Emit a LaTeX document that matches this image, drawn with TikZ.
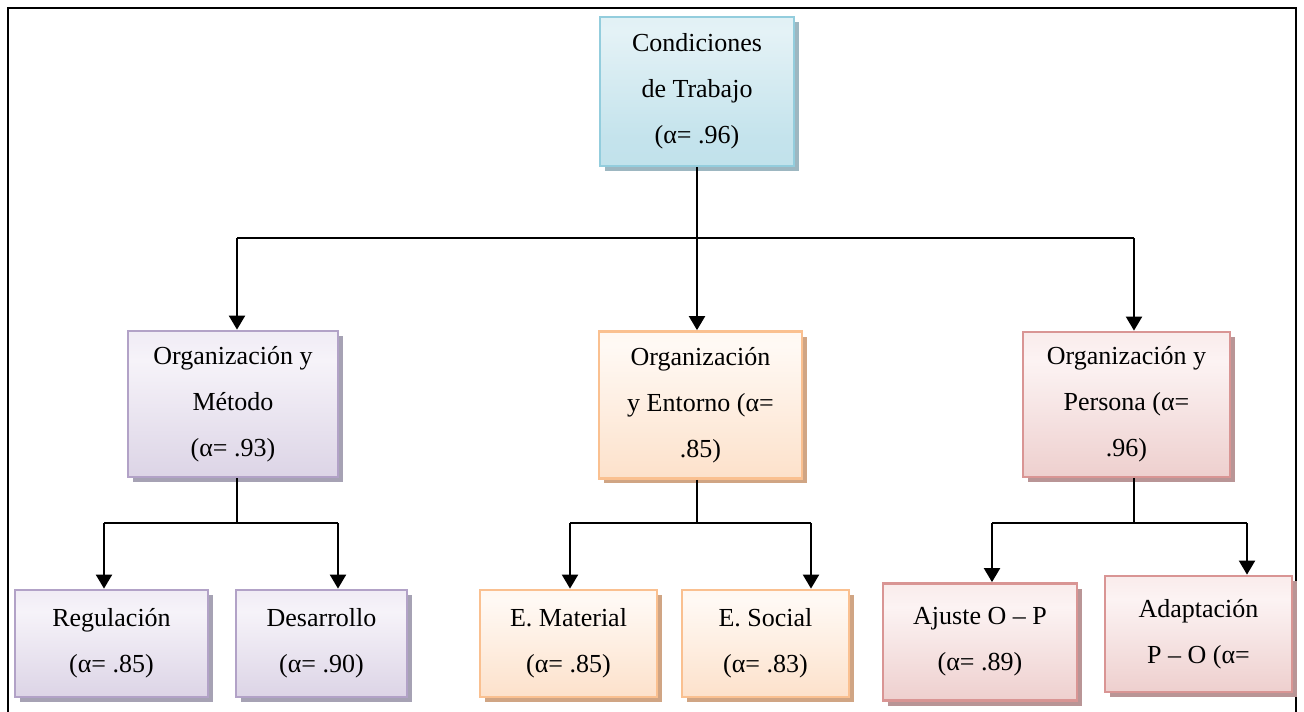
\documentclass[tikz,border=0pt]{standalone}
\usepackage{fontspec}
\setmainfont{Liberation Serif}
\usetikzlibrary{arrows.meta,shadows}
\definecolor{blueB}{HTML}{B7DDE8}\definecolor{blueM}{HTML}{E4F2F6}\definecolor{blueT}{HTML}{D3EAF1}
\definecolor{purB}{HTML}{CCC1DA}\definecolor{purM}{HTML}{F6F3F9}\definecolor{purT}{HTML}{E0D8E9}
\definecolor{oraB}{HTML}{FBD4B4}\definecolor{oraM}{HTML}{FFF9F4}\definecolor{oraT}{HTML}{FFF3EA}
\definecolor{redB}{HTML}{E5B9B7}\definecolor{redM}{HTML}{FCF3F3}\definecolor{redT}{HTML}{F2D9D8}
\definecolor{blueD}{HTML}{93CDDD}\definecolor{purD}{HTML}{B2A2C7}\definecolor{oraD}{HTML}{FAC090}\definecolor{redD}{HTML}{D99594}
\definecolor{blueS}{HTML}{9DB7C1}\definecolor{purS}{HTML}{A6A2B4}\definecolor{oraS}{HTML}{D0A584}\definecolor{redS}{HTML}{B99596}
\pgfdeclareverticalshading{blueshade}{100bp}{color(0bp)=(blueB); color(35bp)=(blueB!70!blueM); color(70bp)=(blueM); color(100bp)=(blueT)}
\pgfdeclareverticalshading{purshade}{100bp}{color(0bp)=(purB); color(65bp)=(purM); color(100bp)=(purT)}
\pgfdeclareverticalshading{orashade}{100bp}{color(0bp)=(oraB); color(70bp)=(oraM); color(100bp)=(oraT)}
\pgfdeclareverticalshading{redshade}{100bp}{color(0bp)=(redB); color(65bp)=(redM); color(100bp)=(redT)}
\tikzset{
  box/.style={rectangle, line width=1.6pt, align=center, inner sep=0pt,
    font=\fontsize{14.8pt}{26.2pt}\selectfont, text=black},
  bluebox/.style={box, draw=blueD, shading=blueshade,
    drop shadow={shadow xshift=0.1cm, shadow yshift=-0.1cm, fill=blueS, opacity=1}},
  purbox/.style={box, draw=purD, shading=purshade,
    drop shadow={shadow xshift=0.1cm, shadow yshift=-0.1cm, fill=purS, opacity=1}},
  orabox/.style={box, draw=oraD, shading=orashade,
    drop shadow={shadow xshift=0.1cm, shadow yshift=-0.1cm, fill=oraS, opacity=1}},
  redbox/.style={box, draw=redD, shading=redshade,
    drop shadow={shadow xshift=0.1cm, shadow yshift=-0.1cm, fill=redS, opacity=1}},
  conn/.style={line width=1.2pt, draw=black},
  arr/.style={conn, -{Triangle[width=0.32cm,length=0.28cm]}},
  frame/.style={line width=1.3pt, draw=black}
}
\begin{document}
\begin{tikzpicture}[x=0.02cm,y=-0.02cm]
\useasboundingbox (0,0) rectangle (1304,711);
\draw[frame] (8,740) -- (8,8) -- (1296,8) -- (1296,740);
% top
\node[bluebox, minimum width=3.88cm, minimum height=2.98cm] (top) at (697,91.5) {Condiciones\\de Trabajo\\(α= .96)};
% middle
\node[purbox, minimum width=4.2cm, minimum height=2.92cm] (midL) at (233,404) {Organización y\\Método\\(α= .93)};
\node[orabox, minimum width=4.06cm, minimum height=2.94cm] (midC) at (700.5,405) {Organización\\y Entorno (α=\\.85)};
\node[redbox, minimum width=4.14cm, minimum height=2.9cm] (midR) at (1126.5,404.5) {Organización y\\Persona (α=\\.96)};
% bottom
\node[purbox, minimum width=3.86cm, minimum height=2.14cm] (reg) at (111.5,643.5) {Regulación\\(α= .85)};
\node[purbox, minimum width=3.42cm, minimum height=2.14cm] (des) at (321.5,643.5) {Desarrollo\\(α= .90)};
\node[orabox, minimum width=3.54cm, minimum height=2.14cm] (emat) at (568.5,643.5) {E. Material\\(α= .85)};
\node[orabox, minimum width=3.34cm, minimum height=2.14cm] (esoc) at (765.5,643.5) {E. Social\\(α= .83)};
\node[redbox, minimum width=3.88cm, minimum height=2.34cm] (aju) at (980,642) {Ajuste O – P\\(α= .89)};
\node[redbox, minimum width=3.74cm, minimum height=2.32cm] (ada) at (1198.5,634) {Adaptación\\P – O (α=};
% connectors top level
\coordinate (jt) at (697,238);
\coordinate (jL) at (237,238);
\coordinate (jR) at (1134,238);
\draw[conn] (top.south) -- (jt);
\draw[conn] (jL) -- (jR);
\draw[arr] (jL) -- (jL |- midL.north);
\draw[arr] (jt) -- (jt |- midC.north);
\draw[arr] (jR) -- (jR |- midR.north);
% left branch
\coordinate (kL) at (237,523);
\coordinate (kL1) at (104,523);
\coordinate (kL2) at (338,523);
\draw[conn] (kL |- midL.south) -- (kL);
\draw[conn] (kL1) -- (kL2);
\draw[arr] (kL1) -- (kL1 |- reg.north);
\draw[arr] (kL2) -- (kL2 |- des.north);
% center branch
\coordinate (kC) at (697,523);
\coordinate (kC1) at (570,523);
\coordinate (kC2) at (811,523);
\draw[conn] (kC |- midC.south) -- (kC);
\draw[conn] (kC1) -- (kC2);
\draw[arr] (kC1) -- (kC1 |- emat.north);
\draw[arr] (kC2) -- (kC2 |- esoc.north);
% right branch
\coordinate (kR) at (1134,523);
\coordinate (kR1) at (992,523);
\coordinate (kR2) at (1247,523);
\draw[conn] (kR |- midR.south) -- (kR);
\draw[conn] (kR1) -- (kR2);
\draw[arr] (kR1) -- (kR1 |- aju.north);
\draw[arr] (kR2) -- (kR2 |- ada.north);
\end{tikzpicture}
\end{document}
